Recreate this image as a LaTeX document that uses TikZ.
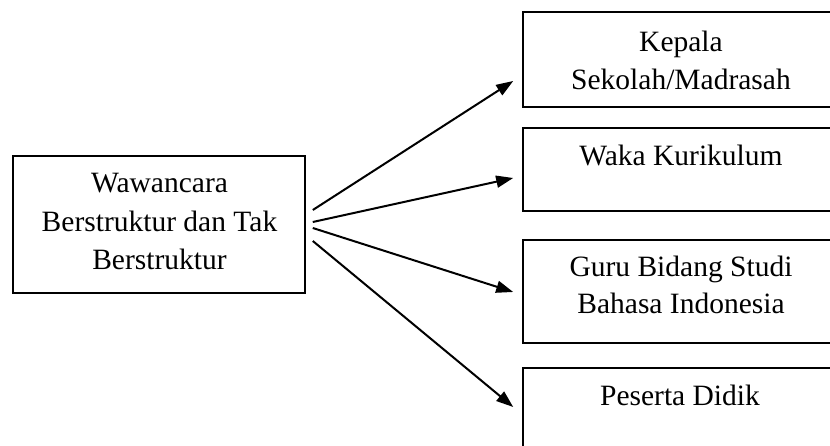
\documentclass[tikz,border=0pt]{standalone}
\usepackage{fontspec}
\setmainfont{Liberation Serif}
\usetikzlibrary{arrows.meta,calc}
\begin{document}
\begin{tikzpicture}[x=1pt,y=-1pt,
  box/.style={draw,line width=1.6pt,inner sep=0pt,rectangle},
  txt/.style={anchor=base,inner sep=0pt,font=\fontsize{29.5}{38}\selectfont},
  arr/.style={line width=2pt,-{Triangle[length=17pt,width=12pt]}}]
\useasboundingbox (0,0) rectangle (830,446);
\clip (0,0) rectangle (830,446);
% boxes
\node[box,minimum width=292pt,minimum height=137pt] (L) at (159,224.5) {};
\node[box,minimum width=315pt,minimum height=95pt] (R1) at (680.5,59.5) {};
\node[box,minimum width=315pt,minimum height=83pt] (R2) at (680.5,169.5) {};
\node[box,minimum width=315pt,minimum height=103pt] (R3) at (680.5,291.5) {};
\node[box,minimum width=315pt,minimum height=92pt] (R4) at (680.5,414) {};
% texts
\node[txt] (l1) at (159.5,193) {Wawancara};
\node[txt] (l2) at (159.5,232) {Berstruktur dan Tak};
\node[txt] (l3) at (159.5,270) {Berstruktur};
\node[txt] (k1) at (681,52) {Kepala};
\node[txt] (k2) at (681,90) {Sekolah/Madrasah};
\node[txt] (w1) at (681,166) {Waka Kurikulum};
\node[txt] (g1) at (681,277) {Guru Bidang Studi};
\node[txt] (g2) at (681,314) {Bahasa Indonesia};
\node[txt] (p1) at (680,405) {Peserta Didik};
% arrow ends
\coordinate (s1) at ($(L.east)+(7,-14.5)$);
\coordinate (s2) at ($(L.east)+(7,-2.5)$);
\coordinate (s3) at ($(L.east)+(7,3.5)$);
\coordinate (s4) at ($(L.east)+(7,16.5)$);
\coordinate (t1) at ($(R1.west)+(-9,21.5)$);
\coordinate (t2) at ($(R2.west)+(-9,8.5)$);
\coordinate (t3) at ($(R3.west)+(-9,0.5)$);
\coordinate (t4) at ($(R4.west)+(-9,-7)$);
\draw[arr] (s1) -- (t1);
\draw[arr] (s2) -- (t2);
\draw[arr] (s3) -- (t3);
\draw[arr] (s4) -- (t4);
\end{tikzpicture}
\end{document}
